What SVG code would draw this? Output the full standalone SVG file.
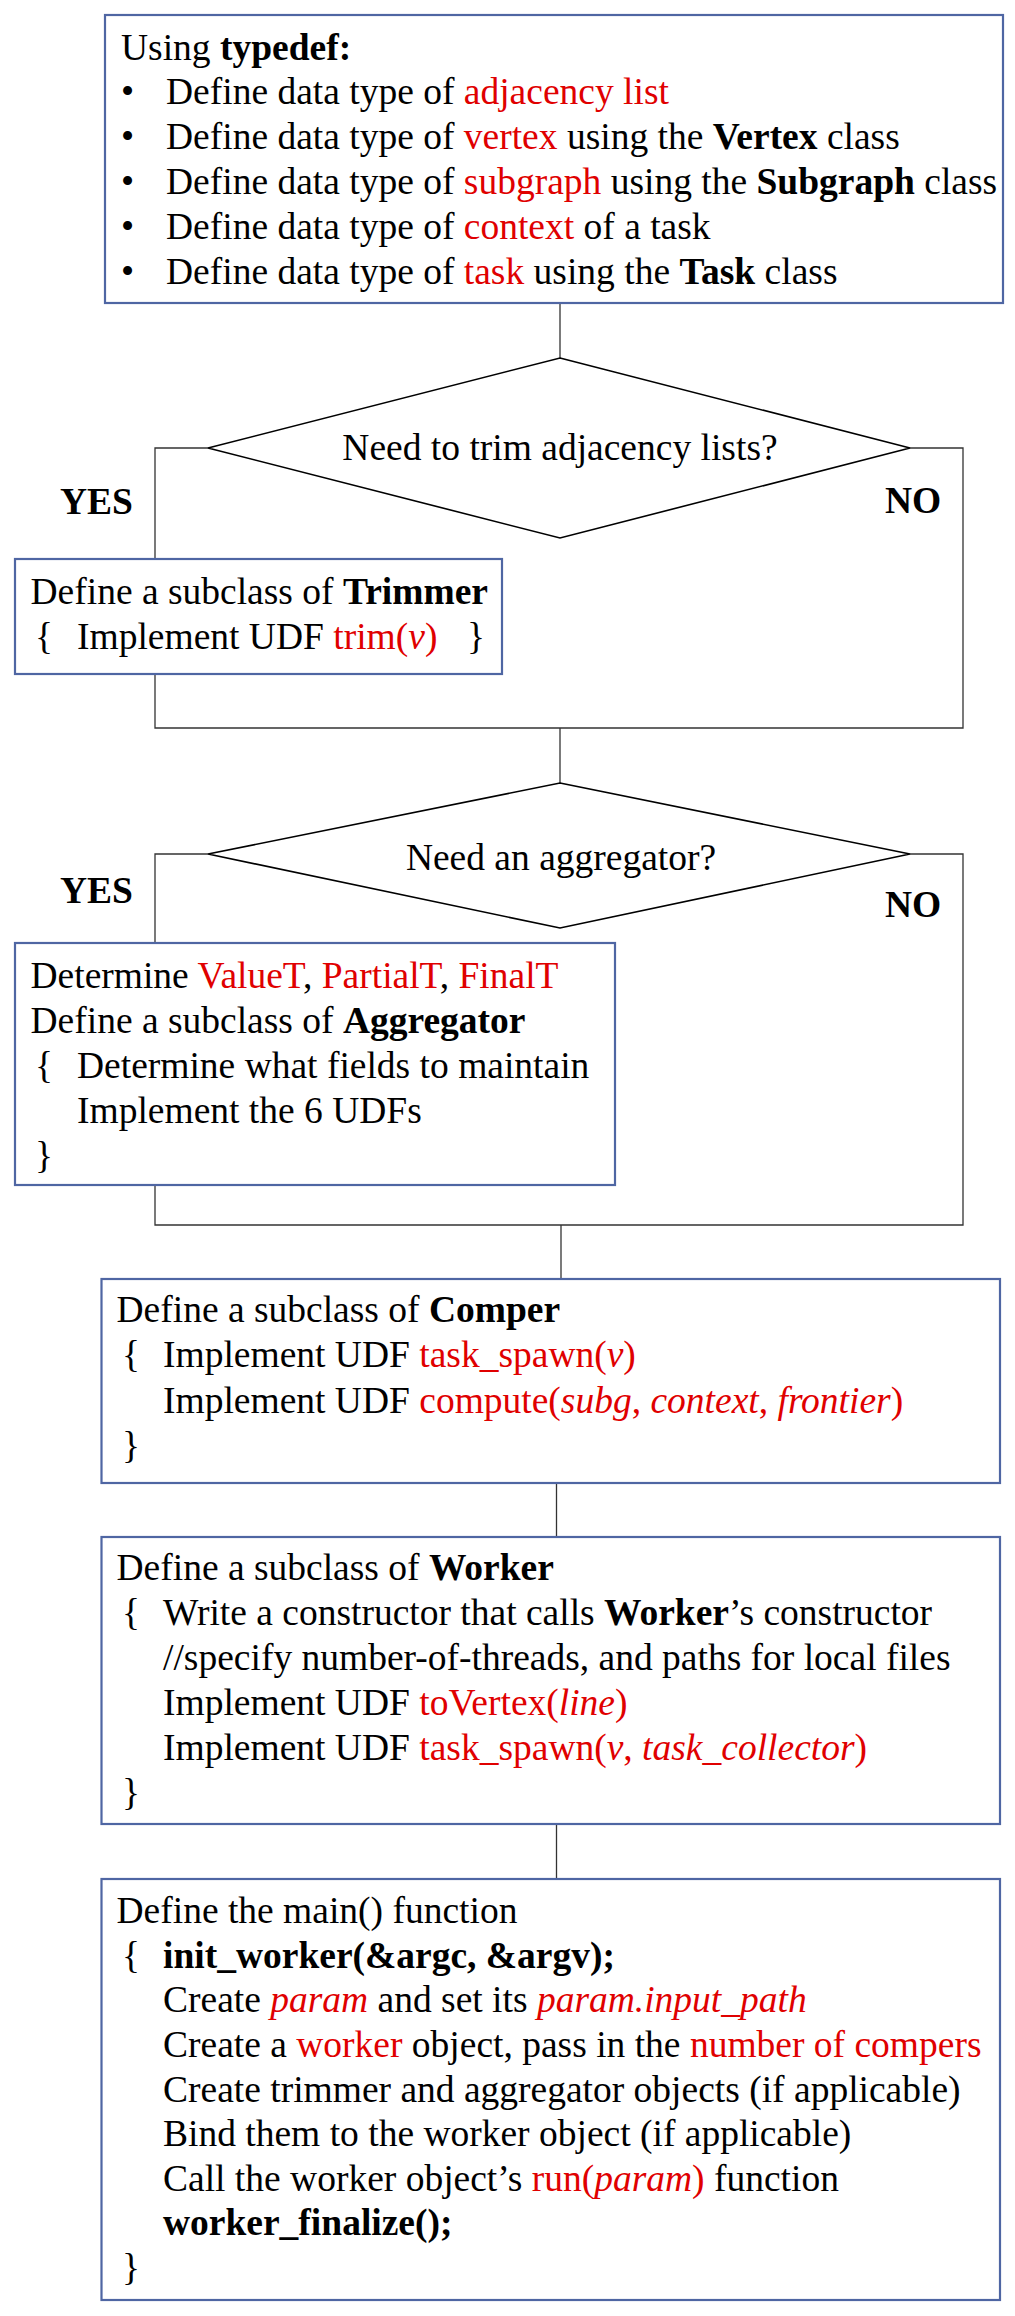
<svg xmlns="http://www.w3.org/2000/svg" width="1015" height="2316" viewBox="0 0 1015 2316">
<style>
.t{font-family:"Liberation Serif","Times New Roman",serif;font-size:37.5px;fill:#000}
.m{text-anchor:middle}
.r{fill:#e00000}
.b{font-weight:bold}
.i{font-style:italic}
.box{fill:#fff;stroke:#4f66a3;stroke-width:2.2}
.dia{fill:#fff;stroke:#000;stroke-width:1.6}
.conn{fill:none;stroke:#333;stroke-width:1.3}
</style>
<rect width="1015" height="2316" fill="#fff"/>
<g id="connectors">
<path class="conn" d="M560,303 V358"/>
<path class="conn" d="M208,448 H155 V559"/>
<path class="conn" d="M910,448 H963 V728 H155 V674"/>
<path class="conn" d="M560,728 V783"/>
<path class="conn" d="M208,854 H155 V943"/>
<path class="conn" d="M910,854 H963 V1225 H155 V1185"/>
<path class="conn" d="M561,1225 V1279"/>
<path class="conn" d="M556.5,1483 V1537"/>
<path class="conn" d="M556.5,1824 V1879"/>
</g>
<g id="typedef">
<rect class="box" x="105" y="15" width="898" height="288"/>
<text class="t" x="121" y="60">Using <tspan class="b">typedef:</tspan></text>
<text class="t" x="121" y="104">•</text>
<text class="t" x="166" y="104">Define data type of <tspan class="r">adjacency list</tspan></text>
<text class="t" x="121" y="148.5">•</text>
<text class="t" x="166" y="148.5">Define data type of <tspan class="r">vertex</tspan> using the <tspan class="b">Vertex</tspan> class</text>
<text class="t" x="121" y="193.5">•</text>
<text class="t" x="166" y="193.5">Define data type of <tspan class="r">subgraph</tspan> using the <tspan class="b">Subgraph</tspan> class</text>
<text class="t" x="121" y="238.5">•</text>
<text class="t" x="166" y="238.5">Define data type of <tspan class="r">context</tspan> of a task</text>
<text class="t" x="121" y="283.5">•</text>
<text class="t" x="166" y="283.5">Define data type of <tspan class="r">task</tspan> using the <tspan class="b">Task</tspan> class</text>
</g>
<g id="decision-trim">
<polygon class="dia" points="560,358 910,448 560,538 208,448"/>
<text class="t m" x="560" y="460">Need to trim adjacency lists?</text>
<text class="t b" x="60" y="514">YES</text>
<text class="t b" x="885" y="513">NO</text>
</g>
<g id="trimmer">
<rect class="box" x="15" y="559" width="487" height="115"/>
<text class="t" x="30.5" y="603.5">Define a subclass of <tspan class="b">Trimmer</tspan></text>
<text class="t" x="35" y="648.5">{</text>
<text class="t" x="77" y="648.5">Implement UDF <tspan class="r">trim(</tspan><tspan class="r i">v</tspan><tspan class="r">)</tspan></text>
<text class="t" x="467" y="648.5">}</text>
</g>
<g id="decision-aggregator">
<polygon class="dia" points="560,783 910,854 560,928 208,854"/>
<text class="t m" x="561" y="870">Need an aggregator?</text>
<text class="t b" x="60" y="903">YES</text>
<text class="t b" x="885" y="917">NO</text>
</g>
<g id="aggregator">
<rect class="box" x="15" y="943" width="600" height="242"/>
<text class="t" x="30.5" y="988">Determine <tspan class="r">ValueT</tspan>, <tspan class="r">PartialT</tspan>, <tspan class="r">FinalT</tspan></text>
<text class="t" x="30.5" y="1033">Define a subclass of <tspan class="b">Aggregator</tspan></text>
<text class="t" x="35" y="1078">{</text>
<text class="t" x="77" y="1078">Determine what fields to maintain</text>
<text class="t" x="77" y="1123">Implement the 6 UDFs</text>
<text class="t" x="35" y="1168">}</text>
</g>
<g id="comper">
<rect class="box" x="101.5" y="1279" width="898.5" height="204"/>
<text class="t" x="116.5" y="1322">Define a subclass of <tspan class="b">Comper</tspan></text>
<text class="t" x="122" y="1367">{</text>
<text class="t" x="163" y="1367">Implement UDF <tspan class="r">task_spawn(</tspan><tspan class="r i">v</tspan><tspan class="r">)</tspan></text>
<text class="t" x="163" y="1412.5">Implement UDF <tspan class="r">compute(</tspan><tspan class="r i">subg</tspan><tspan class="r">, </tspan><tspan class="r i">context</tspan><tspan class="r">, </tspan><tspan class="r i">frontier</tspan><tspan class="r">)</tspan></text>
<text class="t" x="122" y="1458">}</text>
</g>
<g id="worker">
<rect class="box" x="101.5" y="1537" width="898.5" height="287"/>
<text class="t" x="116.5" y="1580">Define a subclass of <tspan class="b">Worker</tspan></text>
<text class="t" x="122" y="1625">{</text>
<text class="t" x="163" y="1625">Write a constructor that calls <tspan class="b">Worker</tspan>’s constructor</text>
<text class="t" x="163" y="1670">//specify number-of-threads, and paths for local files</text>
<text class="t" x="163" y="1715">Implement UDF <tspan class="r">toVertex(</tspan><tspan class="r i">line</tspan><tspan class="r">)</tspan></text>
<text class="t" x="163" y="1760">Implement UDF <tspan class="r">task_spawn(</tspan><tspan class="r i">v</tspan><tspan class="r">, </tspan><tspan class="r i">task_collector</tspan><tspan class="r">)</tspan></text>
<text class="t" x="122" y="1805">}</text>
</g>
<g id="main">
<rect class="box" x="101.5" y="1879" width="898.5" height="421"/>
<text class="t" x="116.5" y="1923">Define the main() function</text>
<text class="t" x="122" y="1968">{</text>
<text class="t b" x="163" y="1968">init_worker(&amp;argc, &amp;argv);</text>
<text class="t" x="163" y="2012">Create <tspan class="r i">param</tspan> and set its <tspan class="r i">param.input_path</tspan></text>
<text class="t" x="163" y="2057">Create a <tspan class="r">worker</tspan> object, pass in the <tspan class="r">number of compers</tspan></text>
<text class="t" x="163" y="2101.5">Create trimmer and aggregator objects (if applicable)</text>
<text class="t" x="163" y="2146">Bind them to the worker object (if applicable)</text>
<text class="t" x="163" y="2190.5">Call the worker object’s <tspan class="r">run(</tspan><tspan class="r i">param</tspan><tspan class="r">)</tspan> function</text>
<text class="t b" x="163" y="2235">worker_finalize();</text>
<text class="t" x="122" y="2280">}</text>
</g>
</svg>
